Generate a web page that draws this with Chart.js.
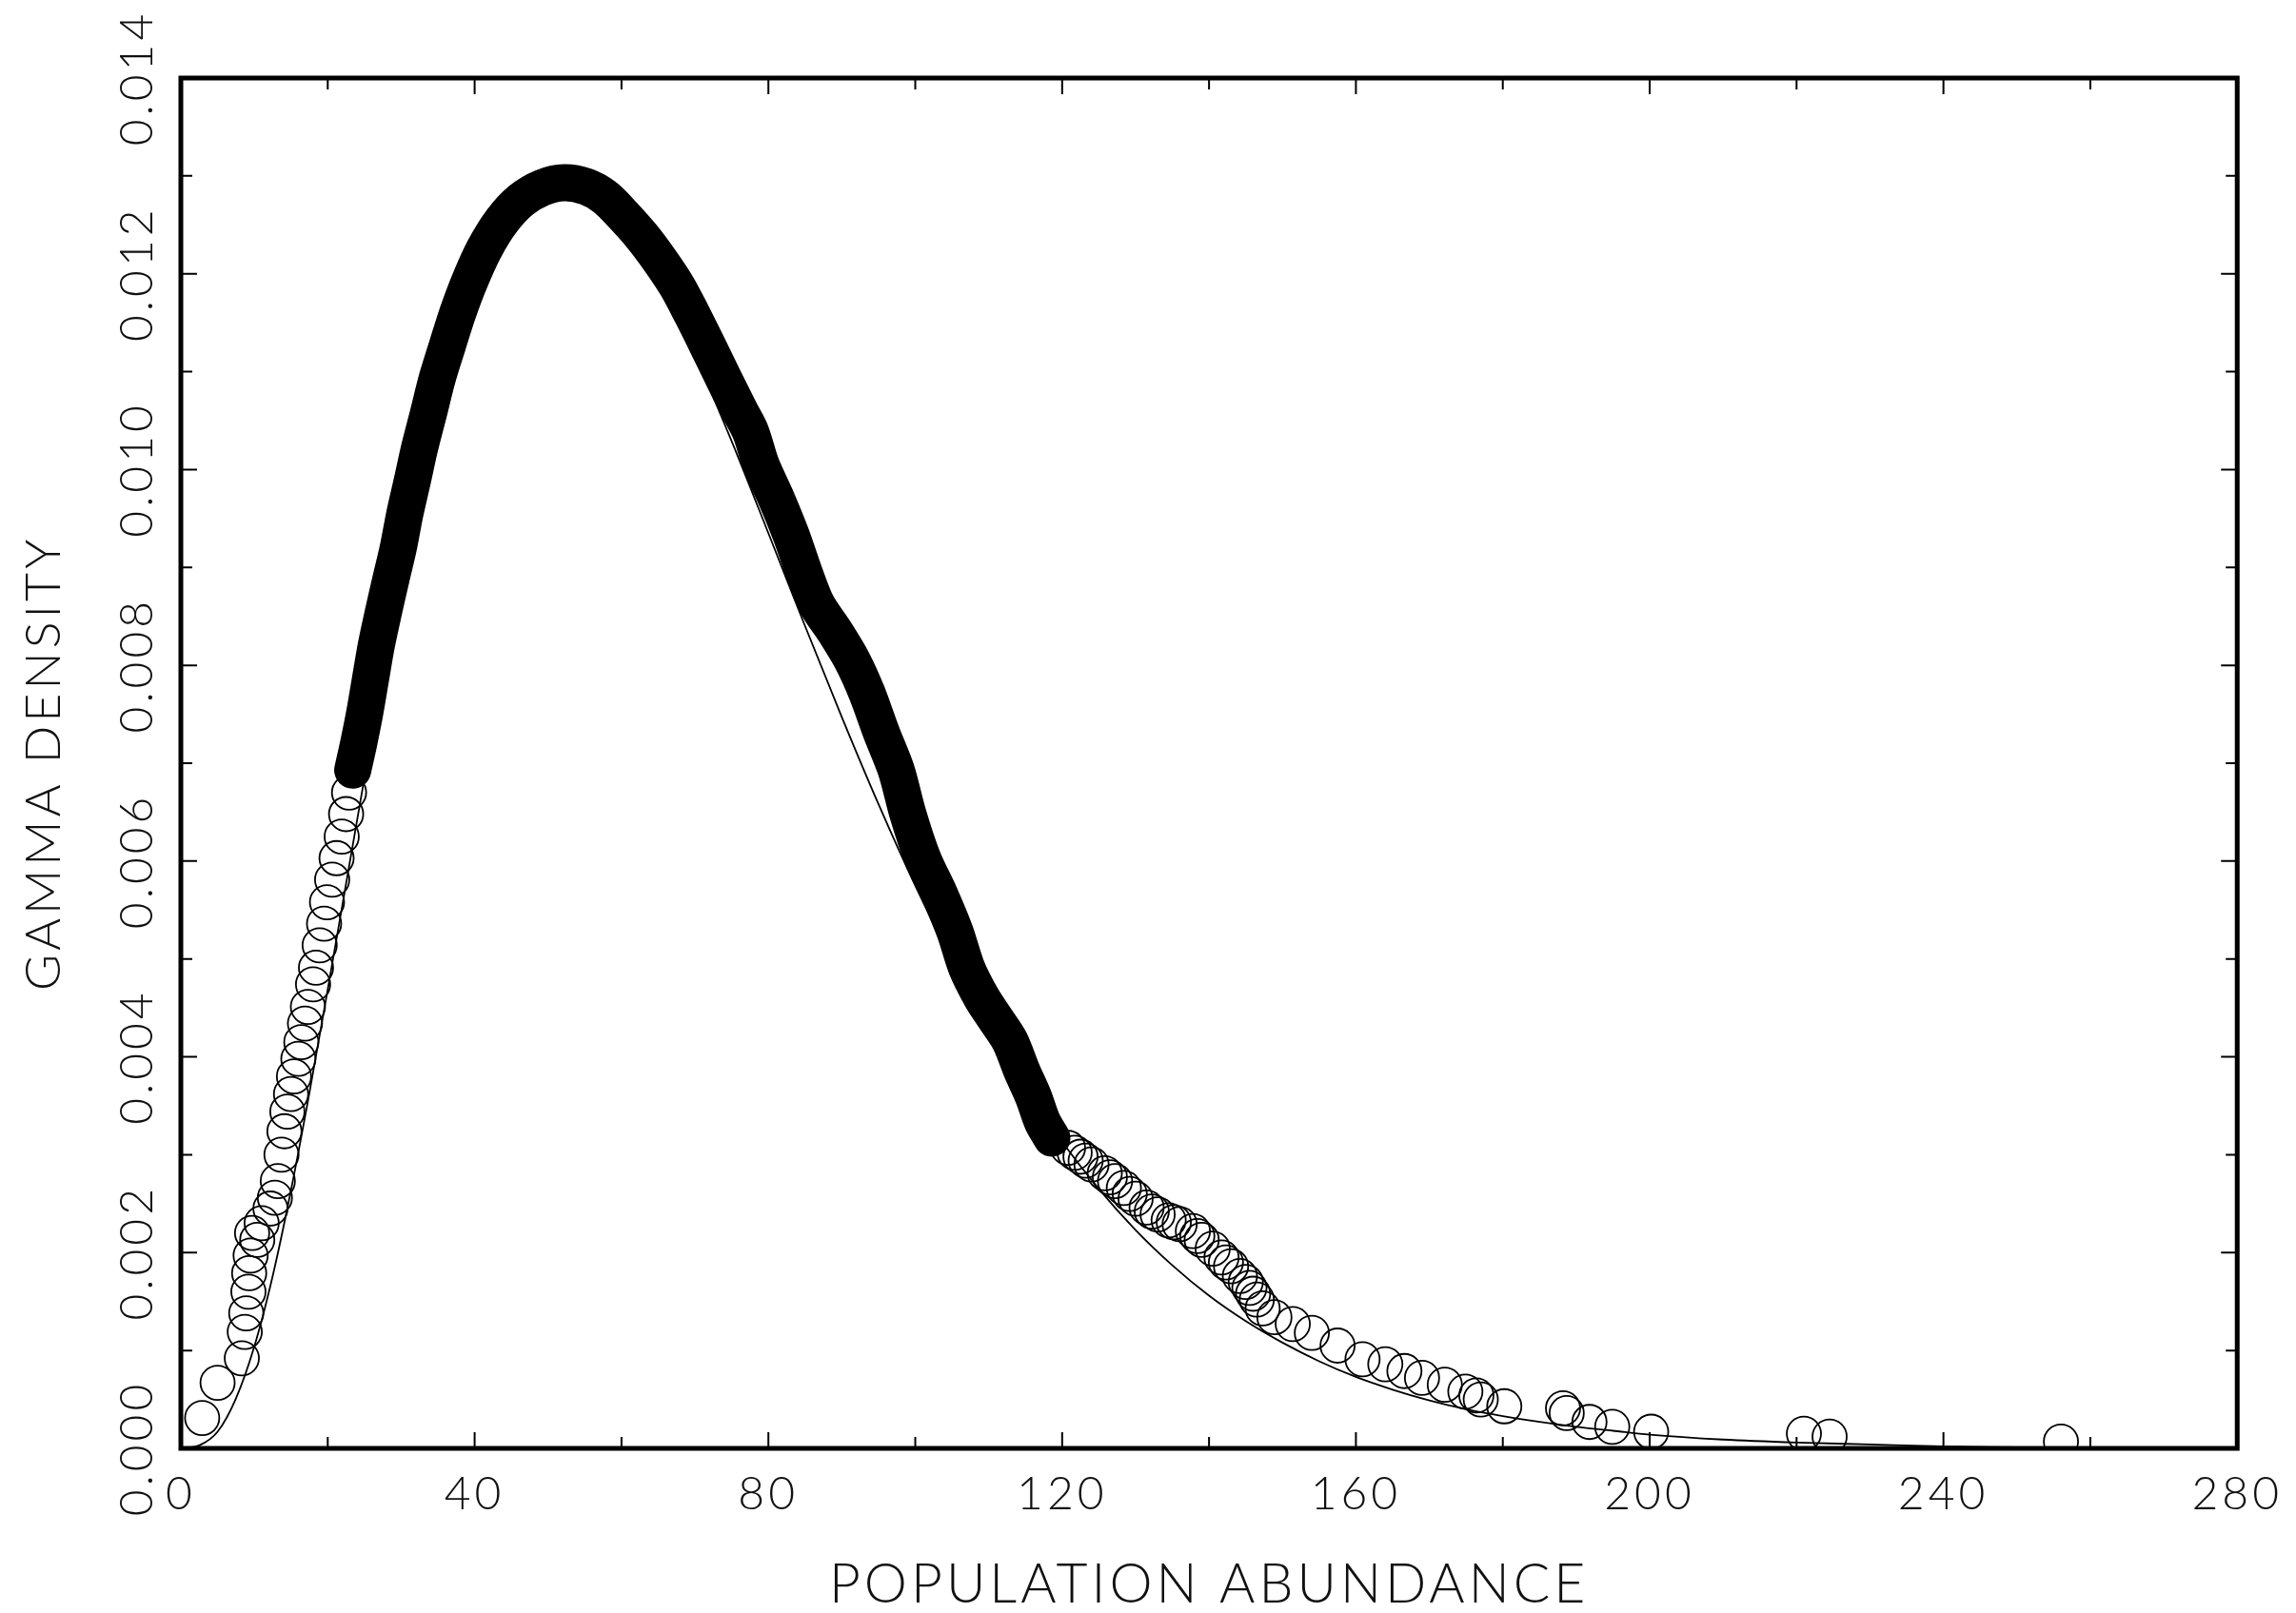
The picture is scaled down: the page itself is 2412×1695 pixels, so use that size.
<!DOCTYPE html>
<html>
<head>
<meta charset="utf-8">
<title>Gamma density</title>
<script src="https://cdn.jsdelivr.net/npm/chart.js@4.4.1/dist/chart.umd.min.js"></script>
<style>
  html, body { margin: 0; padding: 0; background: #fff; }
  #wrap { width: 2412px; height: 1695px; position: relative; }
</style>
</head>
<body>
<div id="wrap"><canvas id="gammaChart"></canvas></div>
<script>
// observed densities (open circles)
const abundance = [
  2.9, 5.0, 8.3, 8.7, 8.9, 9.2, 9.3, 9.5, 9.7, 10.4,
  11.0, 12.2, 12.8, 13.2, 13.7, 14.1, 14.5, 15.0, 15.4, 16.0,
  16.4, 16.9, 17.3, 18.0, 18.4, 18.9, 19.5, 19.9, 20.6, 21.2,
  21.9, 22.5, 22.9, 23.4,
  24.2, 25.0, 25.8, 26.6, 27.6, 28.6, 29.6, 30.5, 31.5, 32.5,
  33.7, 34.9, 36.3, 37.7, 39.3, 41.3, 43.7, 46.3, 49.2, 52.2,
  55.2, 57.8, 60.2, 62.8, 65.1, 67.5, 69.5, 71.7, 73.9, 76.1,
  77.6, 79.0, 81.1, 83.1, 85.0, 86.6, 89.0, 91.4, 93.4, 95.4,
  97.4, 99.0, 101.0, 103.3, 105.4, 107.0, 109.0, 110.9, 112.9, 114.5,
  116.1, 117.3, 118.6,
  120.8, 121.7, 122.5, 123.2, 124.0, 125.8, 126.5, 127.2, 128.4, 129.2,
  130.0, 131.5, 132.2, 133.0, 134.5, 135.2, 136.0, 137.8, 138.4, 139.0,
  140.5, 141.7, 142.3, 143.0, 144.2, 145.0, 145.5, 146.0, 146.5, 147.3,
  148.9, 151.4, 154.0, 157.5, 160.9, 164.0, 166.6, 169.0, 172.1, 174.9,
  176.4, 177.0, 180.2, 188.2, 188.7, 191.8, 194.9, 200.2, 221.0, 224.5,
  256.0
];
const density = [
  0.00031, 0.00067, 0.00092, 0.00119, 0.00138, 0.00160, 0.00179, 0.00197, 0.00220, 0.00213,
  0.00230, 0.00245, 0.00256, 0.00273, 0.00300, 0.00324, 0.00344, 0.00362, 0.00380, 0.00398,
  0.00415, 0.00434, 0.00451, 0.00474, 0.00491, 0.00514, 0.00536, 0.00558, 0.00581, 0.00603,
  0.00625, 0.00648, 0.00670, 0.00693,
  0.00720, 0.00750, 0.00785, 0.00820, 0.00855, 0.00888, 0.00920, 0.00955, 0.00988, 0.01022,
  0.01057, 0.01093, 0.01127, 0.01160, 0.01192, 0.01225, 0.01254, 0.01275, 0.01288, 0.01293,
  0.01289, 0.01278, 0.01260, 0.01238, 0.01215, 0.01188, 0.01160, 0.01127, 0.01093, 0.01060,
  0.01038, 0.01005, 0.00970, 0.00933, 0.00892, 0.00862, 0.00835, 0.00805, 0.00772, 0.00731,
  0.00693, 0.00648, 0.00603, 0.00566, 0.00528, 0.00491, 0.00461, 0.00439, 0.00416, 0.00386,
  0.00359, 0.00334, 0.00317,
  0.00307, 0.00302, 0.00298, 0.00294, 0.00290, 0.00281, 0.00277, 0.00273, 0.00266, 0.00260,
  0.00255, 0.00246, 0.00242, 0.00239, 0.00233, 0.00231, 0.00229, 0.00222, 0.00217, 0.00213,
  0.00204, 0.00195, 0.00190, 0.00186, 0.00176, 0.00170, 0.00164, 0.00158, 0.00152, 0.00143,
  0.00134, 0.00127, 0.00118, 0.00105, 0.00091, 0.00086, 0.00079, 0.00072, 0.00065, 0.00058,
  0.00054, 0.00050, 0.00043, 0.00041, 0.00036, 0.00027, 0.00022, 0.00017, 0.00015, 0.00012,
  0.00007
];

// fitted gamma density (thin line)
const fitX = [
  0, 2.5, 5, 7.5, 10, 12.5, 15, 17.5, 20, 22.5,
  25, 27.5, 30, 32.5, 35, 37.5, 40, 42.5, 45, 47.5,
  50, 52.5, 55, 57.5, 60, 65, 70, 75, 80, 85,
  90, 95, 100, 105, 110, 115, 120, 125, 130, 135,
  140, 145, 150, 155, 160, 165, 170, 175, 180, 185,
  190, 195, 200, 210, 220, 230, 240, 250
];
const fitY = [
  0, 0.00003, 0.00017, 0.00051, 0.00104, 0.00176, 0.00264, 0.00363, 0.00469, 0.00577,
  0.00685, 0.00789, 0.00887, 0.00976, 0.01055, 0.01123, 0.01180, 0.01225, 0.01258, 0.01281,
  0.01293, 0.01296, 0.01289, 0.01275, 0.01254, 0.01194, 0.01117, 0.01029, 0.00935, 0.00840,
  0.00747, 0.00658, 0.00575, 0.00499, 0.00429, 0.00368, 0.00313, 0.00265, 0.00223, 0.00187,
  0.00156, 0.00130, 0.00108, 0.00089, 0.00073, 0.00060, 0.00049, 0.00040, 0.00033, 0.00027,
  0.00022, 0.00018, 0.00014, 0.00009, 0.00006, 0.00004, 0.00002, 0.00001
];

// axes
const xTicks = [0, 20, 40, 60, 80, 100, 120, 140, 160, 180, 200, 220, 240, 260, 280];
const xLabels = ['0', '40', '80', '120', '160', '200', '240', '280'];
const yTicks = [0, 0.001, 0.002, 0.003, 0.004, 0.005, 0.006, 0.007, 0.008, 0.009, 0.010, 0.011, 0.012, 0.013, 0.014];
const yLabels = ['0.000', '0.002', '0.004', '0.006', '0.008', '0.010', '0.012', '0.014'];

// where the circles overlap into a solid band
const BAND_FROM = 23;
const BAND_TO = 119;

const FONT = "Lato, 'DejaVu Sans', sans-serif";
const INK = '#111';

const circles = abundance.map((x, i) => ({ x: x, y: density[i] }));
const band = circles.filter(p => p.x >= BAND_FROM && p.x <= BAND_TO);
const fit = fitX.map((x, i) => ({ x: x, y: fitY[i] }));

const isMajorX = v => Math.round(v) % 40 === 0;
const isMajorY = v => Math.round(v * 1000) % 2 === 0;

// frame, inward ticks on all four sides and the rotated y labels
const frameTicks = {
  id: 'frameTicks',
  beforeDraw(chart) {
    chart.ctx.letterSpacing = '4px';
  },
  afterDatasetsDraw(chart) {
    const { ctx, chartArea: a, scales: { x, y } } = chart;
    ctx.save();
    ctx.strokeStyle = '#000';
    ctx.lineWidth = 2;
    ctx.beginPath();
    xTicks.forEach(v => {
      const px = x.getPixelForValue(v);
      const len = isMajorX(v) ? 17 : 12;
      ctx.moveTo(px, a.bottom); ctx.lineTo(px, a.bottom - len);
      ctx.moveTo(px, a.top); ctx.lineTo(px, a.top + len);
    });
    yTicks.forEach(v => {
      const py = y.getPixelForValue(v);
      const len = isMajorY(v) ? 17 : 12;
      ctx.moveTo(a.left, py); ctx.lineTo(a.left + len, py);
      ctx.moveTo(a.right, py); ctx.lineTo(a.right - len, py);
    });
    ctx.stroke();

    ctx.lineWidth = 5;
    ctx.strokeRect(a.left, a.top, a.right - a.left, a.bottom - a.top);

    ctx.fillStyle = INK;
    ctx.font = '300 48px ' + FONT;
    ctx.textAlign = 'center';
    ctx.textBaseline = 'middle';
    yTicks.filter(isMajorY).forEach((v, i) => {
      const py = y.getPixelForValue(v);
      ctx.save();
      ctx.translate(145, py);
      ctx.rotate(-Math.PI / 2);
      ctx.fillText(yLabels[i], 0, 0);
      ctx.restore();
    });
    ctx.restore();
  }
};

const ctx = document.getElementById('gammaChart').getContext('2d');

new Chart(ctx, {
  type: 'scatter',
  data: {
    datasets: [
      {
        label: 'gamma fit',
        data: fit,
        showLine: true,
        borderColor: '#000',
        borderWidth: 1.8,
        pointRadius: 0,
        cubicInterpolationMode: 'monotone',
        clip: 0
      },
      {
        label: 'observed',
        data: circles,
        showLine: false,
        pointStyle: 'circle',
        pointRadius: 18,
        pointBorderWidth: 1.8,
        pointBorderColor: '#000',
        pointBackgroundColor: 'rgba(0,0,0,0)',
        clip: 0
      },
      {
        label: 'band',
        data: band,
        showLine: true,
        borderColor: '#000',
        borderWidth: 39,
        borderCapStyle: 'round',
        borderJoinStyle: 'round',
        pointRadius: 0,
        tension: 0.3,
        clip: 0
      }
    ]
  },
  options: {
    responsive: true,
    maintainAspectRatio: false,
    animation: false,
    layout: { padding: { top: 82, right: 58, left: 0, bottom: 0 } },
    plugins: {
      legend: { display: false },
      tooltip: { enabled: false }
    },
    scales: {
      x: {
        type: 'linear',
        min: 0,
        max: 280,
        afterBuildTicks: s => { s.ticks = xTicks.map(v => ({ value: v })); },
        afterFit: s => { s.height = 173; },
        grid: { display: false, drawTicks: false },
        border: { display: false },
        ticks: {
          autoSkip: false,
          maxRotation: 0,
          padding: 20,
          color: INK,
          font: { family: FONT, size: 48, weight: 300 },
          callback: v => isMajorX(v) ? xLabels[Math.round(v) / 40] : ''
        },
        title: {
          display: true,
          text: 'POPULATION ABUNDANCE',
          color: INK,
          font: { family: FONT, size: 57, weight: 300, lineHeight: 1 },
          padding: { top: 0, bottom: 1 }
        }
      },
      y: {
        type: 'linear',
        min: 0,
        max: 0.014,
        afterBuildTicks: s => { s.ticks = yTicks.map(v => ({ value: v })); },
        afterFit: s => { s.width = 190; },
        grid: { display: false, drawTicks: false },
        border: { display: false },
        ticks: { display: false },
        title: {
          display: true,
          text: 'GAMMA DENSITY',
          color: INK,
          font: { family: FONT, size: 52, weight: 300, lineHeight: 1 },
          padding: { top: 20, bottom: 0 }
        }
      }
    }
  },
  plugins: [frameTicks]
});
</script>
</body>
</html>
